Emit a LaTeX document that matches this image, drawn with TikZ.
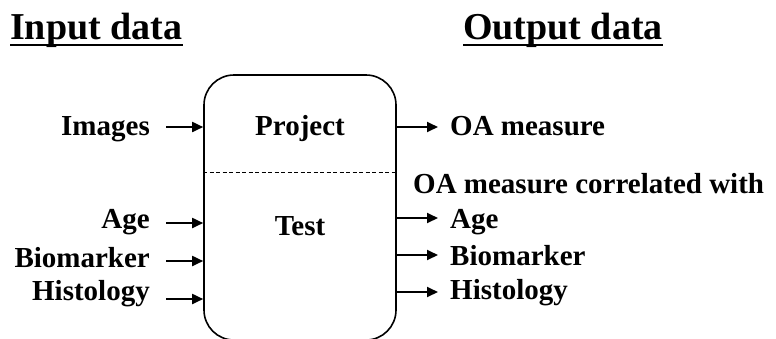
\documentclass[tikz,border=0pt]{standalone}
\usepackage{fontspec}
\setmainfont{Liberation Serif}
\usetikzlibrary{arrows.meta,positioning}

\tikzset{
  lbl/.style={font=\fontsize{29}{32}\selectfont\bfseries, inner sep=0pt},
  ttl/.style={font=\fontsize{38}{42}\selectfont\bfseries, inner sep=0pt},
  arr/.style={line width=1.8pt,-{Triangle[length=11pt,width=10pt]}},
}

\begin{document}
\begin{tikzpicture}[x=1pt,y=-1pt]
  \useasboundingbox (0,0) rectangle (776,338);
  \clip (0,0) rectangle (776,338);
  % titles
  \node[ttl,anchor=base west] (tin) at (10,39) {Input data};
  \node[ttl,anchor=base west] (tout) at (463,39) {Output data};
  \foreach \t in {tin,tout}
    \draw[line width=2.5pt] ([yshift=-6pt]\t.base west) -- ([yshift=-6pt]\t.base east);
  % box
  \node[draw,line width=1.6pt,rounded corners=30pt,minimum width=192pt,
        minimum height=265pt,inner sep=0pt] (box) at (300,207.5) {};
  \node[lbl,anchor=base] (proj) at (300,135) {Project};
  \node[lbl,anchor=base] (test) at (300,235) {Test};
  \draw[line width=1pt,dash pattern=on 4pt off 2.5pt]
    (box.west |- 0,172) -- (box.east |- 0,172);
  % inputs
  \node[lbl,anchor=base east] (img) at (150,135) {Images};
  \node[lbl,anchor=base east] (lage) at (150,228) {Age};
  \node[lbl,anchor=base east] (lbio) at (150,267) {Biomarker};
  \node[lbl,anchor=base east] (lhis) at (150,300) {Histology};
  \foreach \n/\d in {img/8,lage/5,lbio/6,lhis/1}
    \draw[arr] ([xshift=16pt,yshift=\d pt]\n.base east) coordinate (t) -- (t -| box.west);
  % outputs
  \node[lbl,anchor=base west] (oa) at (450,135) {OA measure};
  \node[lbl,anchor=base west] (corr) at (413,193) {OA measure correlated with};
  \node[lbl,anchor=base west] (rage) at (450,228) {Age};
  \node[lbl,anchor=base west] (rbio) at (450,265) {Biomarker};
  \node[lbl,anchor=base west] (rhis) at (450,299) {Histology};
  \foreach \n/\d in {oa/8,rage/10,rbio/10,rhis/7}
    \draw[arr] ([xshift=-12pt,yshift=\d pt]\n.base west) coordinate (t)
      (t -| box.east) -- (t);
\end{tikzpicture}
\end{document}
